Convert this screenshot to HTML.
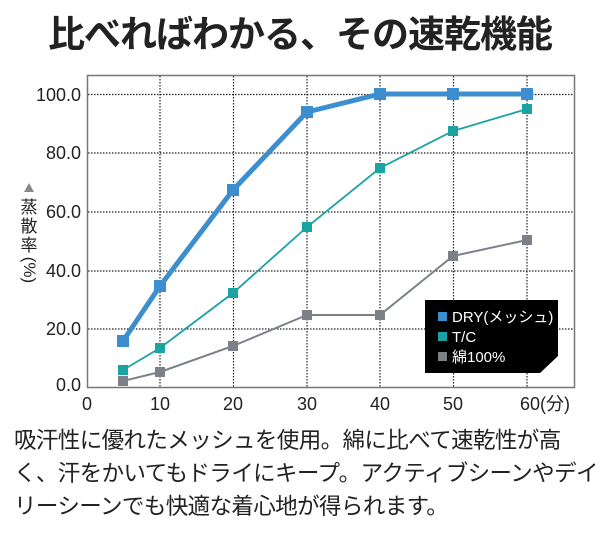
<!DOCTYPE html>
<html><head><meta charset="utf-8"><style>
body{margin:0;width:600px;height:537px;background:#fff;overflow:hidden;font-family:"Liberation Sans","Noto Sans CJK JP",sans-serif;}
.t{position:absolute;left:0;top:4px;width:600px;text-align:center;font-size:37px;font-weight:bold;color:#222;letter-spacing:-1px;white-space:nowrap}
.p{position:absolute;left:14px;top:424px;width:590px;font-size:22.5px;line-height:33px;color:#222;white-space:nowrap;letter-spacing:-0.6px}
</style></head><body>
<div class="t">比べればわかる、その速乾機能</div>
<svg width="600" height="537" style="position:absolute;left:0;top:0" font-family="Liberation Sans, Noto Sans CJK JP, sans-serif">
<g stroke="#222" stroke-width="1.2" stroke-dasharray="1.5,1.5">
<line x1="88" x2="574" y1="94.5" y2="94.5"/><line x1="88" x2="574" y1="153" y2="153"/><line x1="88" x2="574" y1="212" y2="212"/><line x1="88" x2="574" y1="271" y2="271"/><line x1="88" x2="574" y1="329" y2="329"/>
<line y1="76" y2="388" x1="160" x2="160"/><line y1="76" y2="388" x1="233.5" x2="233.5"/><line y1="76" y2="388" x1="307" x2="307"/><line y1="76" y2="388" x1="380" x2="380"/><line y1="76" y2="388" x1="453.5" x2="453.5"/><line y1="76" y2="388" x1="527" x2="527"/>
</g>
<rect x="87.5" y="75.5" width="487" height="312" fill="none" stroke="#777" stroke-width="1.5"/>
<g font-size="18" fill="#222" text-anchor="end">
<text x="81" y="101">100.0</text><text x="81" y="159">80.0</text><text x="81" y="218">60.0</text><text x="81" y="277">40.0</text><text x="81" y="335">20.0</text><text x="81" y="391">0.0</text>
</g>
<g font-size="18" fill="#222" text-anchor="middle">
<text x="87" y="410">0</text><text x="160" y="410">10</text><text x="233" y="410">20</text><text x="307" y="410">30</text><text x="380" y="410">40</text><text x="453" y="410">50</text><text x="545" y="410">60(分)</text>
</g>
<polygon points="24,192 34,192 29,183" fill="#888"/>
<g font-size="17" fill="#222" text-anchor="middle"><text x="29" y="213">蒸</text><text x="29" y="232">散</text><text x="29" y="251">率</text></g>
<text x="29" y="275" font-size="17" fill="#222" text-anchor="middle" transform="rotate(90 29 270)">(%)</text>
<polyline points="123,381 160,372 233,346 307,315 380,315 453,256 527,240" fill="none" stroke="#7c8189" stroke-width="2"/>
<polyline points="123,370 160,348 233,293 307,227 380,168 453,131 527,109" fill="none" stroke="#1aa3a3" stroke-width="1.8"/>
<polyline points="123,341 160,286 233,190 307,112 380,94 453,94 527,94" fill="none" stroke="#3d8ecf" stroke-width="5"/>
<g fill="#7c8189"><rect x="118" y="376" width="10" height="10"/><rect x="155" y="367" width="10" height="10"/><rect x="228" y="341" width="10" height="10"/><rect x="302" y="310" width="10" height="10"/><rect x="375" y="310" width="10" height="10"/><rect x="448" y="251" width="10" height="10"/><rect x="522" y="235" width="10" height="10"/></g>
<g fill="#1aa3a3"><rect x="118" y="365" width="10" height="10"/><rect x="155" y="343" width="10" height="10"/><rect x="228" y="288" width="10" height="10"/><rect x="302" y="222" width="10" height="10"/><rect x="375" y="163" width="10" height="10"/><rect x="448" y="126" width="10" height="10"/><rect x="522" y="104" width="10" height="10"/></g>
<g fill="#3d8ecf"><rect x="117" y="335" width="12" height="12"/><rect x="154" y="280" width="12" height="12"/><rect x="227" y="184" width="12" height="12"/><rect x="301" y="106" width="12" height="12"/><rect x="374" y="88" width="12" height="12"/><rect x="447" y="88" width="12" height="12"/><rect x="521" y="88" width="12" height="12"/></g>
<polygon points="425,300 558,300 558,356 540,373 425,373" fill="#000"/>
<rect x="438" y="312" width="9" height="9" fill="#3d8ecf"/><rect x="438" y="332" width="9" height="9" fill="#1aa3a3"/><rect x="438" y="352" width="9" height="9" fill="#7c8189"/>
<g font-size="15" fill="#fff"><text x="452" y="322">DRY(メッシュ)</text><text x="452" y="342">T/C</text><text x="452" y="362">綿100%</text></g>
</svg>
<div class="p">吸汗性に優れたメッシュを使用。綿に比べて速乾性が高<br>く、汗をかいてもドライにキープ。アクティブシーンやデイ<br>リーシーンでも快適な着心地が得られます。</div>
</body></html>
